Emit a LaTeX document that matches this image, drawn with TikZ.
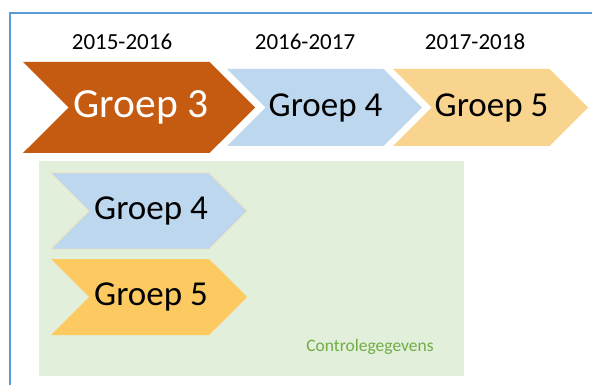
\documentclass[tikz,border=0pt]{standalone}
\usepackage{fontspec}
\setmainfont{Carlito}
\usetikzlibrary{shapes.symbols}

\definecolor{frameblue}{HTML}{5B9BD5}
\definecolor{rust}{HTML}{C55A11}
\definecolor{paleblue}{HTML}{BDD7EE}
\definecolor{palegold}{HTML}{F8D48E}
\definecolor{gold}{HTML}{FDCA62}
\definecolor{palegreen}{HTML}{E2EFDA}
\definecolor{textgreen}{HTML}{70AD47}

\tikzset{
  chevron/.style={signal, signal from=west, signal to=east, signal pointer angle=90,
    inner sep=0pt, draw=none},
  year/.style={font=\fontsize{23}{27}\selectfont}
}

\begin{document}
\begin{tikzpicture}[x=1pt, y=-1pt]

\useasboundingbox (0,0) rectangle (592,385);

\draw[frameblue, line width=1.3pt] (10,385) -- (10,13) -- (592,13);

\node[year] (y1516) at (122,42) {2015-2016};
\node[year] (y1617) at (305,42) {2016-2017};
\node[year] (y1718) at (475,42) {2017-2018};

\node[chevron, fill=rust, text=white, minimum width=232pt, minimum height=91pt,
  font=\fontsize{41.5}{44}\selectfont] (g3) at (139,107.5) {\hspace*{4pt}Groep 3};
\node[chevron, fill=paleblue, minimum width=195pt, minimum height=77pt,
  font=\fontsize{35}{38}\selectfont] (g4) at (324.5,107.5) {\hspace*{2pt}Groep 4};
\node[chevron, fill=palegold, minimum width=195pt, minimum height=77pt,
  font=\fontsize{35}{38}\selectfont] (g5) at (490.5,107.5) {\hspace*{2pt}Groep 5};

% controle
\node[fill=palegreen, inner sep=0pt, minimum width=425pt, minimum height=215pt]
  (box) at (251.5,268.5) {};

\node[chevron, fill=paleblue, draw=palegold!70, line width=0.5pt, minimum width=196pt, minimum height=76pt,
  font=\fontsize{35}{38}\selectfont] (c4) at (149,211) {\hspace*{4pt}Groep 4};
\node[chevron, fill=gold, minimum width=196pt, minimum height=76pt,
  font=\fontsize{35}{38}\selectfont] (c5) at (149,297) {\hspace*{4pt}Groep 5};

\node[text=textgreen, font=\fontsize{17.5}{20}\selectfont] (ctrl) at (370,347) {Controlegegevens};

\end{tikzpicture}
\end{document}
